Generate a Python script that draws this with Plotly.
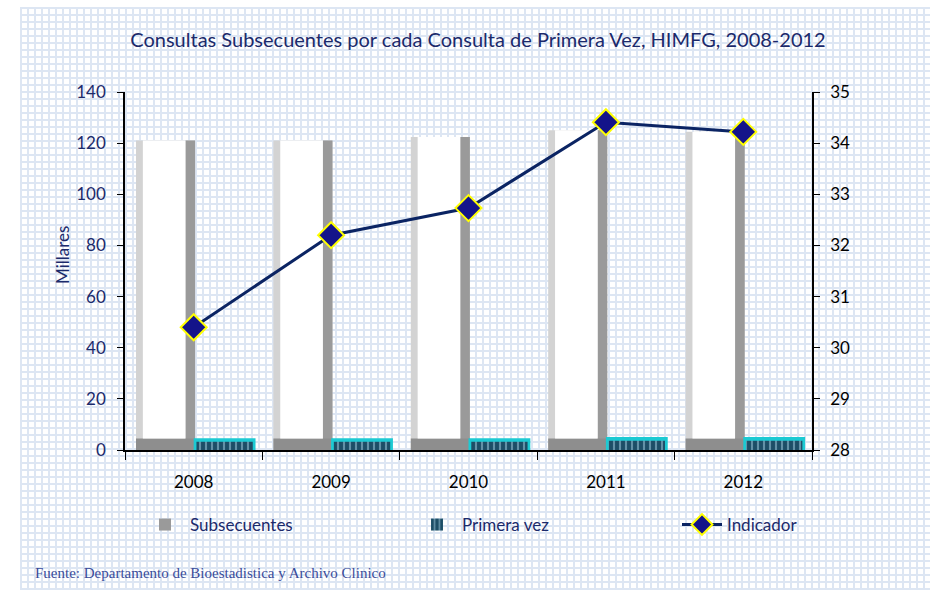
import base64
import plotly.graph_objects as go

years = ["2008", "2009", "2010", "2011", "2012"]
subsecuentes = [121.0, 121.0, 122.4, 125.0, 124.5]   # miles
primera_vez = [4.6, 4.6, 4.6, 5.1, 5.1]              # miles
indicador = [30.4, 32.2, 32.73, 34.41, 34.22]

W, H = 930, 590
ML, MR, MT, MB = 125, 118, 92, 140
PW, PH = W - ML - MR, H - MT - MB

FONT = "Lato"
NAVY = "#1b2a6b"


def px_x(px):
    return (px - ML) / PW


def px_y(py):
    return (MT + PH - py) / PH


fig = go.Figure()

# Subsecuentes: bevelled white column built from layered bars
bevel = [4.5] * len(years)
fig.add_trace(go.Bar(x=years, y=subsecuentes, offset=-0.42, width=0.43,
                     marker=dict(color="#d3d3d3", line=dict(width=0)),
                     showlegend=False, hoverinfo="skip"))
fig.add_trace(go.Bar(x=years, y=subsecuentes, offset=-0.06, width=0.07,
                     marker=dict(color="#9a9a9a", line=dict(width=0)),
                     name="Subsecuentes", showlegend=True, legend="legend"))
fig.add_trace(go.Bar(x=years, y=bevel, offset=-0.42, width=0.43,
                     marker=dict(color="#8e8e8e", line=dict(width=0)),
                     showlegend=False, hoverinfo="skip"))
fig.add_trace(go.Bar(x=years, y=[s - b for s, b in zip(subsecuentes, bevel)], base=bevel,
                     offset=-0.37, width=0.31,
                     marker=dict(color="#ffffff", line=dict(width=0)),
                     showlegend=False, hoverinfo="skip"))

# Primera vez
fig.add_trace(go.Bar(x=years, y=primera_vez, offset=0.0, width=0.45,
                     marker=dict(color="#1ccad3", line=dict(width=0)),
                     showlegend=False, hoverinfo="skip"))
fig.add_trace(go.Bar(x=years, y=[p * 0.7 for p in primera_vez], offset=0.02, width=0.41,
                     marker=dict(color="#1d4e66", line=dict(width=0),
                                 pattern=dict(shape="|", fgcolor="#a9d3e6",
                                              bgcolor="#1d4e66", size=6, solidity=0.35)),
                     name="Primera vez", showlegend=True, legend="legend2"))

# Indicador
fig.add_trace(go.Scatter(x=years, y=indicador, yaxis="y2", mode="lines+markers",
                         name="Indicador", legend="legend3",
                         line=dict(color="#0b2463", width=3),
                         marker=dict(symbol="diamond", size=20, color="#14148a",
                                     line=dict(color="#ffff00", width=2))))

# graph-paper background
svg = (
    f'<svg xmlns="http://www.w3.org/2000/svg" width="{W}" height="{H}" viewBox="0 0 {W} {H}" preserveAspectRatio="none">'
    '<defs><pattern id="p" x="20" y="7" width="7" height="7" patternUnits="userSpaceOnUse">'
    '<rect width="7" height="7" fill="#ffffff"/>'
    '<rect width="7" height="2" fill="#dde6f3"/>'
    '<rect width="2" height="7" fill="#dde6f3"/>'
    '</pattern></defs>'
    f'<rect width="{W}" height="{H}" fill="#ffffff"/>'
    f'<rect x="20" y="7" width="{W-20}" height="{H-7}" fill="url(#p)"/>'
    '</svg>'
)
src = "data:image/svg+xml;base64," + base64.b64encode(svg.encode()).decode()

leg_common = dict(orientation="h", yanchor="middle", y=px_y(525), xanchor="left",
                  bgcolor="rgba(0,0,0,0)", font=dict(size=17, color=NAVY),
                  itemwidth=40)

fig.update_layout(
    width=W, height=H,
    margin=dict(l=ML, r=MR, t=MT, b=MB, pad=0, autoexpand=False),
    paper_bgcolor="#ffffff", plot_bgcolor="rgba(0,0,0,0)",
    barmode="overlay",
    font=dict(family=FONT, color=NAVY, size=16),
    images=[dict(source=src, xref="paper", yref="paper",
                 x=-ML / PW, y=(PH + MT) / PH, sizex=W / PW, sizey=H / PH,
                 xanchor="left", yanchor="top", sizing="stretch", layer="below")],
    title=dict(text="Consultas Subsecuentes por cada Consulta de Primera Vez, HIMFG, 2008-2012",
               x=478 / W, xanchor="center", y=1 - 40 / H, yanchor="middle",
               font=dict(family=FONT, size=20, color=NAVY)),
    xaxis=dict(type="category", showline=True, linecolor="#000000", linewidth=1.5,
               ticks="outside", ticklen=8, tickcolor="#000000", tickson="boundaries",
               showgrid=False, zeroline=False, tickfont=dict(size=17, color="#000000"),
               ticklabelstandoff=16, range=[-0.5, 4.5], automargin=False),
    yaxis=dict(range=[0, 140], dtick=20, showline=True, linecolor="#000000", linewidth=1.5,
               ticks="outside", ticklen=6, tickcolor="#000000", showgrid=False,
               zeroline=False, tickfont=dict(size=17, color=NAVY), ticklabelstandoff=8,
               automargin=False),
    yaxis2=dict(range=[28, 35], dtick=1, overlaying="y", side="right", showline=True,
                linecolor="#000000", linewidth=1.5, ticks="outside", ticklen=6,
                tickcolor="#000000", showgrid=False, zeroline=False,
                tickfont=dict(size=17, color="#000000"), ticklabelstandoff=7,
                automargin=False),
    legend=dict(leg_common, x=px_x(140)),
    legend2=dict(leg_common, x=px_x(412)),
    legend3=dict(leg_common, x=px_x(677)),
    annotations=[
        dict(text="Millares", xref="paper", yref="paper", x=px_x(62), y=px_y(255),
             textangle=-90, showarrow=False, xanchor="center", yanchor="middle",
             font=dict(size=17, color=NAVY)),
        dict(text="Fuente: Departamento de Bioestadistica y Archivo Clinico",
             xref="paper", yref="paper", x=px_x(33), y=px_y(573),
             xanchor="left", yanchor="middle", showarrow=False,
             font=dict(family="Liberation Serif", size=15, color="#3a4c9a")),
    ],
)

fig.write_html("out.html", config={"displayModeBar": False},
               post_script="document.body.style.margin='0';")
